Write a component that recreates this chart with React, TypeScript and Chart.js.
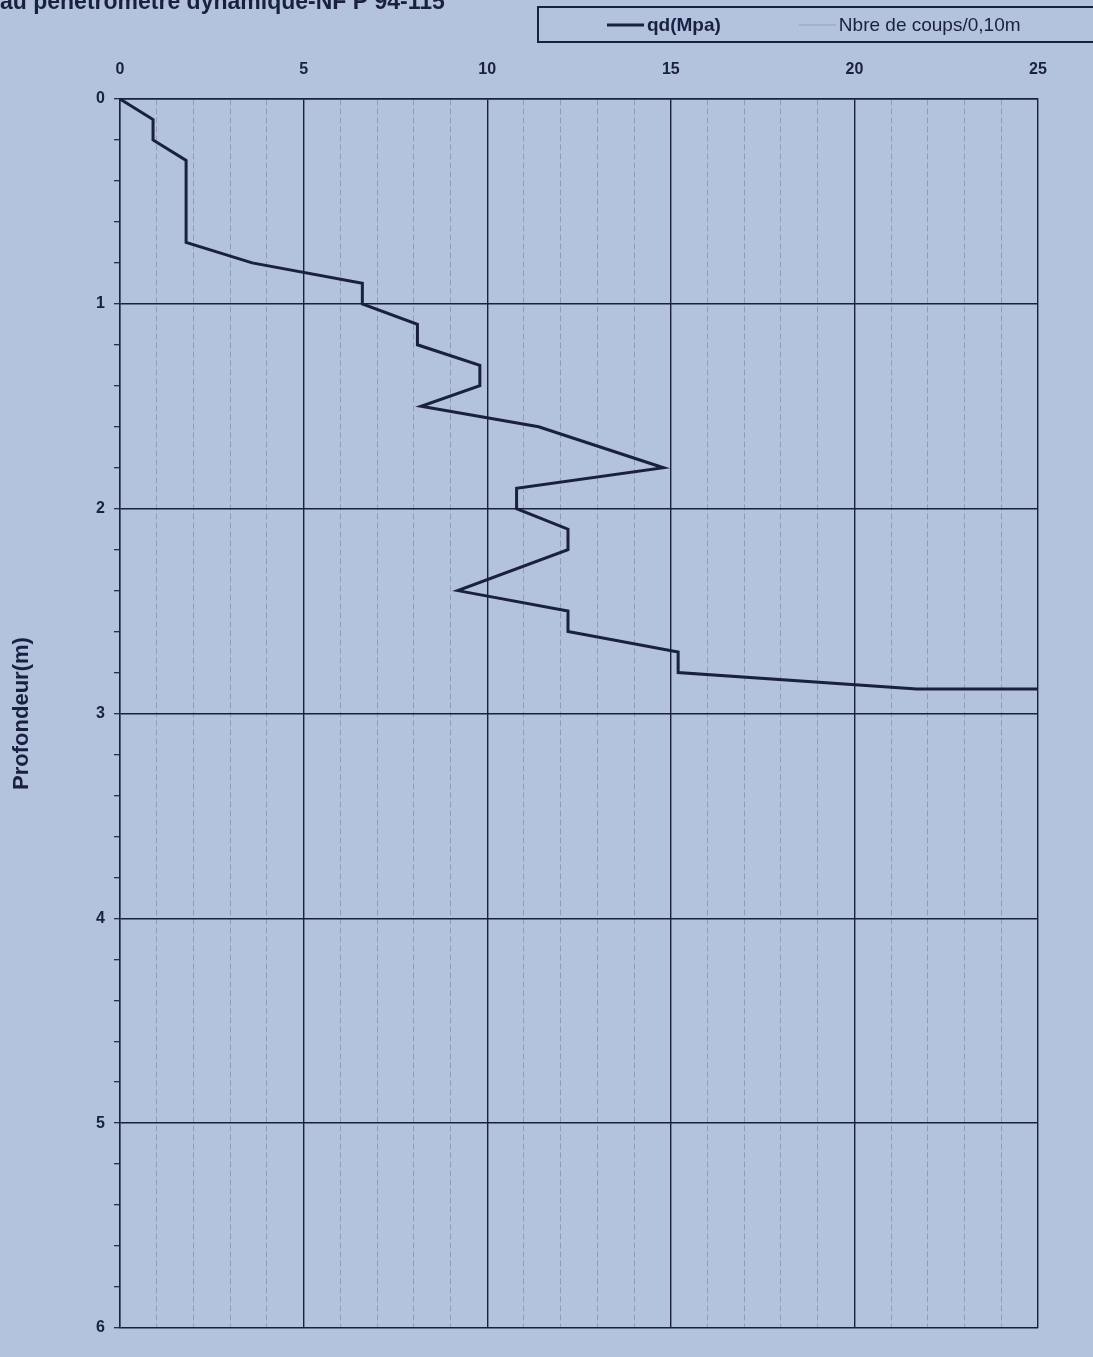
import React, { useEffect, useRef } from "react";
import { Chart, registerables } from "chart.js";

Chart.register(...registerables);

// ---- Data ----
const depthM = [0, 0.1, 0.2, 0.3, 0.7, 0.8, 0.9, 1.0, 1.1, 1.2, 1.3, 1.4, 1.5, 1.6, 1.8, 1.9, 2.0, 2.1, 2.2, 2.4, 2.5, 2.6, 2.7, 2.8, 2.88, 2.88];
const qdMpa = [0, 0.9, 0.9, 1.8, 1.8, 3.6, 6.6, 6.6, 8.1, 8.1, 9.8, 9.8, 8.2, 11.4, 14.8, 10.8, 10.8, 12.2, 12.2, 9.2, 12.2, 12.2, 15.2, 15.2, 21.7, 25];
const coupsDepth: number[] = [];
const coupsValues: number[] = [];

const seriesNames = ["qd(Mpa)", "Nbre de coups/0,10m"];
const xTickLabels = [0, 5, 10, 15, 20, 25];
const yTickLabels = [0, 1, 2, 3, 4, 5, 6];
const titleText = "au pénétromètre dynamique-NF P 94-115";
const yAxisTitle = "Profondeur(m)";

// ---- Styles ----
const INK = "#1a2042";
const MINOR = "#8a97b5";
const BG = "#b3c2dd";
const FAMILY = '"Liberation Sans", Arial, Helvetica, sans-serif';

const isInt = (v: number) => Math.abs(v - Math.round(v)) < 1e-6;

const headerPlugin = {
  id: "headerLegend",
  afterDraw(chart: any) {
    const ctx: CanvasRenderingContext2D = chart.ctx;
    ctx.save();
    // partially visible title
    ctx.fillStyle = INK;
    ctx.font = `bold 23px ${FAMILY}`;
    ctx.textBaseline = "alphabetic";
    ctx.textAlign = "left";
    ctx.fillText(titleText, 0, 9);

    // legend frame
    const boxL = 538;
    const boxT = 7;
    const boxB = 42;
    ctx.lineWidth = 2;
    ctx.strokeStyle = INK;
    ctx.strokeRect(boxL, boxT, chart.width - boxL + 10, boxB - boxT);

    // legend items
    let x = 607;
    const midY = 25;
    chart.data.datasets.forEach((ds: any, i: number) => {
      ctx.beginPath();
      ctx.setLineDash([]);
      ctx.lineWidth = ds.borderWidth;
      ctx.strokeStyle = ds.borderColor;
      ctx.moveTo(x, midY);
      ctx.lineTo(x + 37, midY);
      ctx.stroke();
      ctx.font = i === 0 ? `bold 19px ${FAMILY}` : `19px ${FAMILY}`;
      ctx.fillStyle = INK;
      ctx.textBaseline = "middle";
      ctx.fillText(ds.label, x + 40, midY + 1);
      x += 40 + ctx.measureText(ds.label).width + 78;
    });
    ctx.restore();
  },
};

export default function App() {
  const canvasRef = useRef<HTMLCanvasElement | null>(null);

  useEffect(() => {
    if (!canvasRef.current) return;
    Chart.defaults.font.family = FAMILY;
    const chart = new Chart(canvasRef.current, {
      type: "scatter",
      data: {
        datasets: [
          {
            label: seriesNames[0],
            data: depthM.map((d, i) => ({ x: qdMpa[i], y: d })),
            showLine: true,
            borderColor: INK,
            borderWidth: 3,
            pointRadius: 0,
            tension: 0,
            borderJoinStyle: "miter",
          },
          {
            label: seriesNames[1],
            data: coupsDepth.map((d, i) => ({ x: coupsValues[i], y: d })),
            showLine: true,
            borderColor: "#98a3bd",
            borderWidth: 1,
            pointRadius: 0,
          },
        ],
      },
      options: {
        animation: false,
        responsive: false,
        layout: { padding: { top: 0, right: 55, bottom: 29, left: 0 } },
        plugins: {
          legend: { display: false },
          tooltip: { enabled: false },
        },
        scales: {
          x: {
            type: "linear",
            position: "top",
            min: 0,
            max: 25,
            ticks: {
              stepSize: 1,
              autoSkip: false,
              maxRotation: 0,
              padding: 20,
              color: INK,
              font: { size: 16, weight: "bold" },
              callback: (v: any) => (xTickLabels.includes(Number(v)) ? String(v) : ""),
            },
            grid: {
              drawTicks: false,
              color: (c: any) => (c.tick && c.tick.value % 5 === 0 ? INK : MINOR),
              lineWidth: (c: any) => (c.tick && c.tick.value % 5 === 0 ? 1.4 : 0.9),
            },
            border: {
              display: true,
              color: INK,
              width: 1.4,
              dash: (c: any) => (c.tick && c.tick.value % 5 !== 0 ? [6, 3] : []),
            },
            afterFit: (s: any) => {
              s.height = 99;
            },
          },
          y: {
            type: "linear",
            reverse: true,
            min: 0,
            max: 6,
            ticks: {
              stepSize: 0.2,
              autoSkip: false,
              padding: 9,
              color: INK,
              font: { size: 16, weight: "bold" },
              callback: (v: any) => {
                const n = Number(v);
                return isInt(n) && yTickLabels.includes(Math.round(n)) ? String(Math.round(n)) : "";
              },
            },
            grid: {
              color: (c: any) => (c.tick && isInt(c.tick.value) ? INK : "rgba(0,0,0,0)"),
              lineWidth: 1.4,
              tickColor: INK,
              tickLength: 6,
              tickWidth: 1.2,
            },
            border: { display: true, color: INK, width: 1.4 },
            title: {
              display: true,
              text: yAxisTitle,
              color: INK,
              font: { size: 22, weight: "bold" },
              padding: { top: 9, bottom: 0 },
            },
            afterFit: (s: any) => {
              s.width = 120;
            },
          },
        },
      },
      plugins: [headerPlugin],
    } as any);
    return () => chart.destroy();
  }, []);

  return (
    <div
      style={{
        position: "fixed",
        left: 0,
        top: 0,
        width: 1093,
        height: 1357,
        background: BG,
        overflow: "hidden",
      }}
    >
      <canvas ref={canvasRef} width={1093} height={1357} style={{ display: "block" }} />
    </div>
  );
}
